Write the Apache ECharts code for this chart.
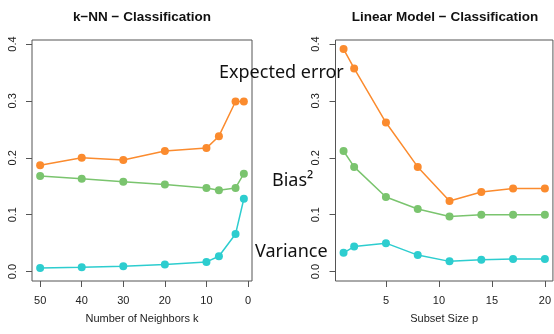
<!DOCTYPE html>
<html><head><meta charset="utf-8">
<script src="https://cdn.jsdelivr.net/npm/echarts@6/dist/echarts.min.js"></script>
<style>html,body{margin:0;padding:0;background:#fff}#c{width:554px;height:334px}</style>
</head><body><div id="c"></div>
<script>
// k-NN panel
const knnK = [50, 40, 30, 20, 10, 7, 3, 1];
const knnExpected = [0.187, 0.200, 0.196, 0.212, 0.217, 0.238, 0.299, 0.299];
const knnBias2 = [0.168, 0.163, 0.158, 0.153, 0.147, 0.143, 0.147, 0.172];
const knnVariance = [0.0065, 0.0078, 0.0095, 0.0123, 0.017, 0.027, 0.066, 0.128];
// Linear model panel
const lmP = [1, 2, 5, 8, 11, 14, 17, 20];
const lmExpected = [0.391, 0.357, 0.262, 0.184, 0.124, 0.140, 0.146, 0.146];
const lmBias2 = [0.212, 0.184, 0.131, 0.110, 0.097, 0.100, 0.100, 0.100];
const lmVariance = [0.033, 0.044, 0.050, 0.029, 0.018, 0.021, 0.022, 0.022];
// ticks
const yTicks = [0, 0.1, 0.2, 0.3, 0.4];
const knnXTicks = [0, 10, 20, 30, 40, 50];
const lmXTicks = [5, 10, 15, 20];
const titles = ['k\u2212NN \u2212 Classification', 'Linear Model \u2212 Classification'];
const xNames = ['Number of Neighbors k', 'Subset Size p'];
const seriesNames = ['Expected error', 'Bias\u00b2', 'Variance'];

const colors = ['#FB8B2E', '#7AC46E', '#2DCDCF'];
const fontTick = 'Liberation Sans, Arial, sans-serif';

function pairs(xs, ys) { return xs.map((x, i) => [x, ys[i]]); }

function yAxis(gi) {
  return {
    type: 'value', gridIndex: gi, min: -0.0165, max: 0.407,
    axisLine: { show: false, onZero: false },
    splitLine: { show: false },
    axisTick: { show: true, length: 6, customValues: yTicks, lineStyle: { color: '#555' } },
    axisLabel: {
      customValues: yTicks, rotate: 90, margin: 14,
      formatter: v => v.toFixed(1), color: '#222', fontSize: 11, fontFamily: fontTick
    }
  };
}
function xAxis(gi, min, max, ticks, inverse, name) {
  return {
    type: 'value', gridIndex: gi, min: min, max: max, inverse: inverse, position: 'bottom',
    axisLine: { show: false, onZero: false }, splitLine: { show: false },
    axisTick: { show: true, length: 6, customValues: ticks, lineStyle: { color: '#555' } },
    axisLabel: { customValues: ticks, margin: 14, color: '#222', fontSize: 11, fontFamily: fontTick },
    name: name, nameLocation: 'middle', nameGap: 32,
    nameTextStyle: { color: '#222', fontSize: 11, fontFamily: fontTick }
  };
}
function line(gi, name, data, ci) {
  return {
    type: 'line', name: name, xAxisIndex: gi, yAxisIndex: gi, data: data,
    symbol: 'circle', symbolSize: 8, showSymbol: true,
    lineStyle: { color: colors[ci], width: 1.5 },
    itemStyle: { color: colors[ci] },
    animation: false, silent: true
  };
}

const chart = echarts.init(document.getElementById('c'), null, { renderer: 'canvas' });
chart.setOption({
  animation: false,
  title: [
    { text: titles[0], left: 137, top: 5, textAlign: 'center',
      textStyle: { fontSize: 13.5, fontWeight: 'bold', color: '#111', fontFamily: fontTick } },
    { text: titles[1], left: 440, top: 5, textAlign: 'center',
      textStyle: { fontSize: 13.5, fontWeight: 'bold', color: '#111', fontFamily: fontTick } }
  ],
  grid: [
    { left: 32, top: 40, width: 220, height: 241, show: true, borderColor: '#555', borderWidth: 1, backgroundColor: 'transparent' },
    { left: 335.5, top: 40, width: 220, height: 241, show: true, borderColor: '#555', borderWidth: 1, backgroundColor: 'transparent' }
  ],
  xAxis: [
    xAxis(0, -0.96, 51.96, knnXTicks, true, xNames[0]),
    xAxis(1, 0.24, 20.76, lmXTicks, false, xNames[1])
  ],
  yAxis: [yAxis(0), yAxis(1)],
  series: [
    line(0, seriesNames[0], pairs(knnK, knnExpected), 0),
    line(0, seriesNames[1], pairs(knnK, knnBias2), 1),
    line(0, seriesNames[2], pairs(knnK, knnVariance), 2),
    line(1, seriesNames[0], pairs(lmP, lmExpected), 0),
    line(1, seriesNames[1], pairs(lmP, lmBias2), 1),
    line(1, seriesNames[2], pairs(lmP, lmVariance), 2)
  ],
  graphic: [
    { type: 'text', left: 219, top: 64, z: 100,
      style: { text: seriesNames[0], fontSize: 18, fontFamily: 'Noto Sans', fill: '#111' } },
    { type: 'text', left: 272, top: 172, z: 100,
      style: { text: seriesNames[1], fontSize: 18, fontFamily: 'Noto Sans', fill: '#111' } },
    { type: 'text', left: 255, top: 243, z: 100,
      style: { text: seriesNames[2], fontSize: 18, fontFamily: 'Noto Sans', fill: '#111' } }
  ]
});
</script>
</body></html>
